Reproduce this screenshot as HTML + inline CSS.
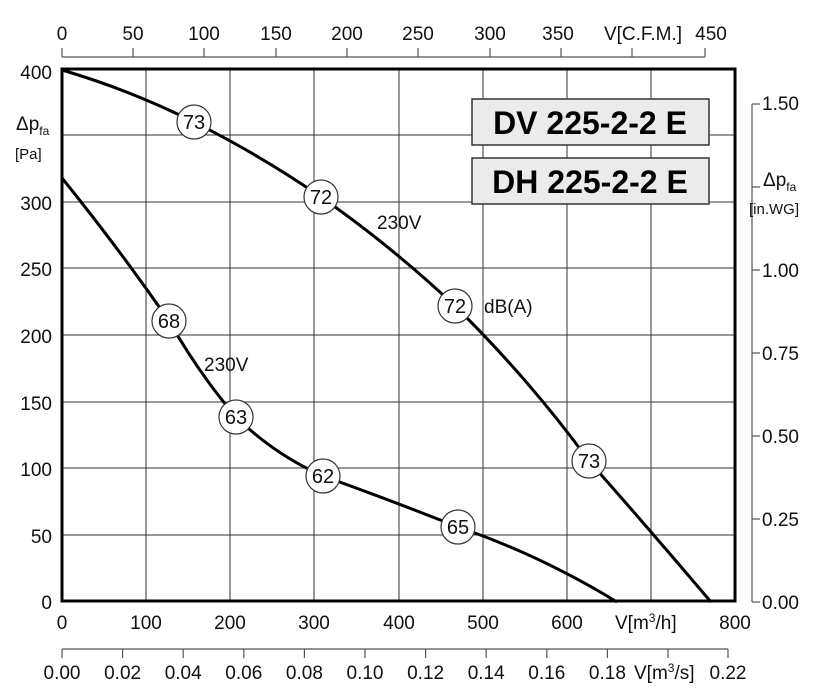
<!DOCTYPE html>
<html><head><meta charset="utf-8"><style>
html,body{margin:0;padding:0;background:#fff;}
svg{display:block;font-family:"Liberation Sans",Arial,sans-serif;}
</style></head><body>
<svg width="832" height="695" viewBox="0 0 832 695" xmlns="http://www.w3.org/2000/svg">
<g stroke="#333" stroke-width="1">
<line x1="146" y1="69" x2="146" y2="601"/><line x1="230" y1="69" x2="230" y2="601"/>
<line x1="314" y1="69" x2="314" y2="601"/><line x1="399" y1="69" x2="399" y2="601"/>
<line x1="483" y1="69" x2="483" y2="601"/><line x1="567" y1="69" x2="567" y2="601"/>
<line x1="651" y1="69" x2="651" y2="601"/>
<line x1="62" y1="135" x2="735" y2="135"/><line x1="62" y1="202" x2="735" y2="202"/>
<line x1="62" y1="268" x2="735" y2="268"/><line x1="62" y1="335" x2="735" y2="335"/>
<line x1="62" y1="402" x2="735" y2="402"/><line x1="62" y1="468" x2="735" y2="468"/>
<line x1="62" y1="535" x2="735" y2="535"/>
</g>
<rect x="62" y="69" width="673" height="532" fill="none" stroke="#000" stroke-width="3"/>
<g stroke="#555" stroke-width="1.2" fill="none">
<line x1="62" y1="57" x2="705" y2="57"/>
<line x1="62" y1="48" x2="62" y2="57"/><line x1="133" y1="48" x2="133" y2="57"/>
<line x1="204" y1="48" x2="204" y2="57"/><line x1="276" y1="48" x2="276" y2="57"/>
<line x1="347" y1="48" x2="347" y2="57"/><line x1="418" y1="48" x2="418" y2="57"/>
<line x1="490" y1="48" x2="490" y2="57"/><line x1="561" y1="48" x2="561" y2="57"/>
<line x1="632" y1="48" x2="632" y2="57"/><line x1="705" y1="48" x2="705" y2="57"/>
<line x1="62" y1="649" x2="728" y2="649"/>
<line x1="62" y1="649" x2="62" y2="658"/><line x1="122.6" y1="649" x2="122.6" y2="658"/>
<line x1="183.2" y1="649" x2="183.2" y2="658"/><line x1="243.8" y1="649" x2="243.8" y2="658"/>
<line x1="304.4" y1="649" x2="304.4" y2="658"/><line x1="365" y1="649" x2="365" y2="658"/>
<line x1="425.6" y1="649" x2="425.6" y2="658"/><line x1="486.2" y1="649" x2="486.2" y2="658"/>
<line x1="546.8" y1="649" x2="546.8" y2="658"/><line x1="607.4" y1="649" x2="607.4" y2="658"/>
<line x1="668" y1="649" x2="668" y2="658"/><line x1="728" y1="649" x2="728" y2="658"/>
<line x1="752" y1="104" x2="752" y2="602"/>
<line x1="752" y1="104" x2="760" y2="104"/><line x1="752" y1="187" x2="760" y2="187"/>
<line x1="752" y1="270" x2="760" y2="270"/><line x1="752" y1="353" x2="760" y2="353"/>
<line x1="752" y1="436" x2="760" y2="436"/><line x1="752" y1="519" x2="760" y2="519"/>
<line x1="752" y1="602" x2="760" y2="602"/>
</g>
<g font-size="19" fill="#111">
<g text-anchor="middle">
<text x="62" y="40">0</text><text x="133" y="40">50</text><text x="204" y="40">100</text>
<text x="276" y="40">150</text><text x="347" y="40">200</text><text x="418" y="40">250</text>
<text x="490" y="40">300</text><text x="558" y="40">350</text><text x="643" y="40">V[C.F.M.]</text><text x="711" y="40">450</text>
<text x="62" y="629">0</text><text x="146" y="629">100</text><text x="230" y="629">200</text>
<text x="314" y="629">300</text><text x="399" y="629">400</text><text x="483" y="629">500</text>
<text x="567" y="629">600</text><text x="735" y="629">800</text>
<text x="62" y="679">0.00</text><text x="122.6" y="679">0.02</text><text x="183.2" y="679">0.04</text>
<text x="243.8" y="679">0.06</text><text x="304.4" y="679">0.08</text><text x="365" y="679">0.10</text>
<text x="425.6" y="679">0.12</text><text x="486.2" y="679">0.14</text><text x="546.8" y="679">0.16</text>
<text x="607.4" y="679">0.18</text><text x="728" y="679">0.22</text>
</g>
<text x="615" y="629">V[m<tspan font-size="12" dy="-7">3</tspan><tspan dy="7">/h]</tspan></text>
<text x="634" y="679">V[m<tspan font-size="12" dy="-7">3</tspan><tspan dy="7">/s]</tspan></text>
<g text-anchor="end">
<text x="52" y="79">400</text><text x="52" y="210">300</text><text x="52" y="276">250</text>
<text x="52" y="343">200</text><text x="52" y="410">150</text><text x="52" y="476">100</text>
<text x="52" y="543">50</text><text x="52" y="609">0</text>
</g>
<text x="762" y="110">1.50</text><text x="762" y="277">1.00</text><text x="762" y="360">0.75</text>
<text x="762" y="443">0.50</text><text x="762" y="526">0.25</text><text x="762" y="609">0.00</text>
<text x="16" y="130">Δp<tspan font-size="12" dy="5">fa</tspan></text>
<text x="763" y="186">Δp<tspan font-size="12" dy="5">fa</tspan></text>
</g>
<text x="15" y="159" font-size="15" fill="#111">[Pa]</text>
<text x="749" y="214" font-size="15" fill="#111">[in.WG]</text>
<rect x="472" y="99" width="237" height="46" fill="#ebebeb" stroke="#333" stroke-width="1.5"/>
<rect x="472" y="158" width="237" height="46" fill="#ebebeb" stroke="#333" stroke-width="1.5"/>
<g font-size="32" font-weight="bold" text-anchor="middle" fill="#000">
<text x="590" y="134">DV 225-2-2 E</text><text x="590" y="193">DH 225-2-2 E</text>
</g>
<path d="M62,70 Q130,90 194,122 Q260,155 321,197 Q390,245 455,306 Q530,380 589,461 Q650,530 711,602" fill="none" stroke="#000" stroke-width="3"/>
<path d="M62,178 Q120,250 169,321 Q200,375 236,417 Q275,455 323,476 Q390,500 458,527 Q540,555 617,602" fill="none" stroke="#000" stroke-width="3"/>
<g fill="#fff" stroke="#333" stroke-width="1.2">
<circle cx="194" cy="122" r="17"/><circle cx="321" cy="197" r="17"/><circle cx="455" cy="306" r="17"/>
<circle cx="589" cy="461" r="17"/><circle cx="169" cy="321" r="17"/><circle cx="236" cy="417" r="17"/>
<circle cx="323" cy="476" r="17"/><circle cx="458" cy="527" r="17"/>
</g>
<g font-size="20" text-anchor="middle" fill="#111">
<text x="194" y="129">73</text><text x="321" y="204">72</text><text x="455" y="313">72</text>
<text x="589" y="468">73</text><text x="169" y="328">68</text><text x="236" y="424">63</text>
<text x="323" y="483">62</text><text x="458" y="534">65</text>
</g>
<g font-size="19" fill="#111">
<text x="377" y="229">230V</text><text x="484" y="313">dB(A)</text><text x="204" y="371">230V</text>
</g>
</svg>
</body></html>
